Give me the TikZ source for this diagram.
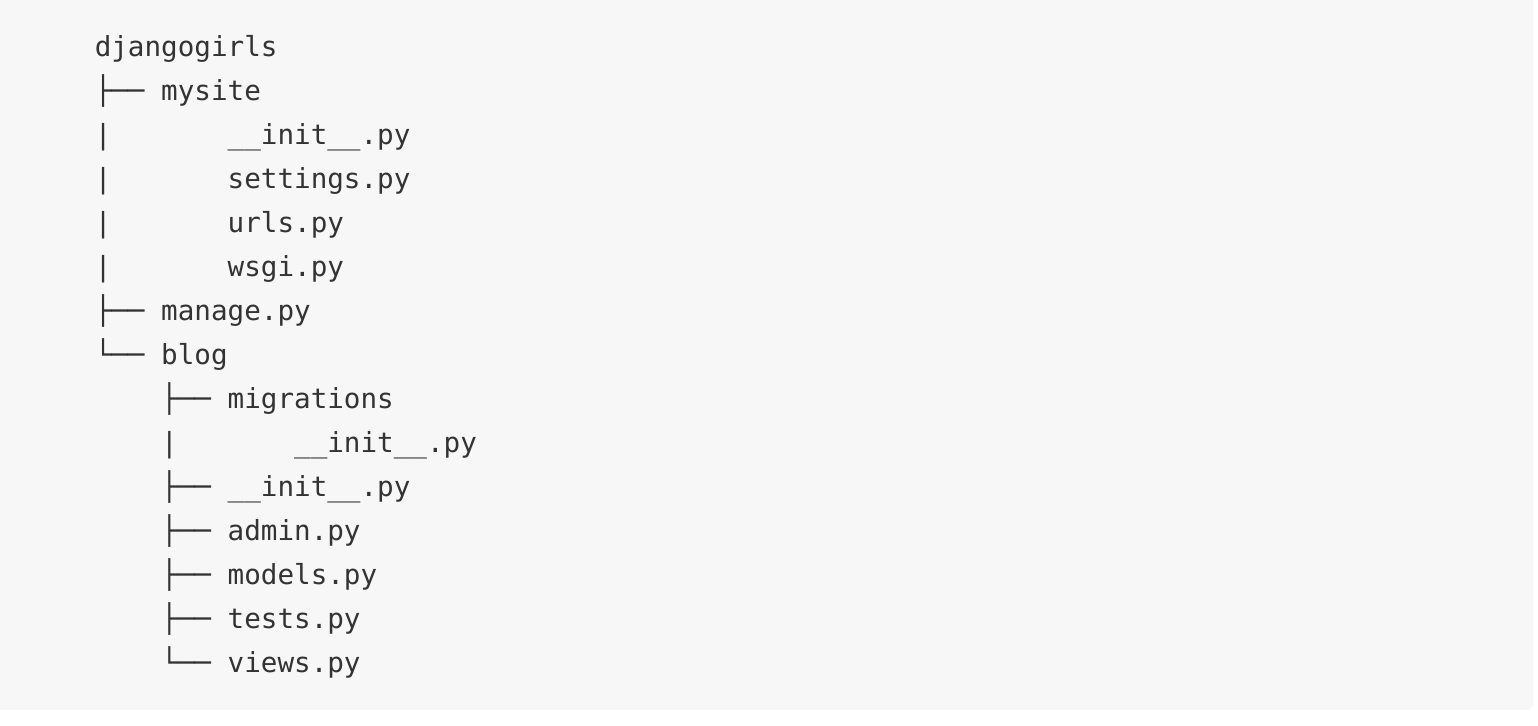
\documentclass[tikz,border=0pt]{standalone}
\usepackage{fontspec}
\setmonofont{DejaVu Sans Mono}
\definecolor{codebg}{HTML}{F7F7F7}
\definecolor{codetext}{HTML}{333333}

\tikzset{every picture/.style={line width=0.75pt}}
\tikzset{treeline/.style={anchor=base west,inner sep=0pt,text=codetext,font=\ttfamily\fontsize{13.8}{22}\selectfont}}

\begin{document}
\begin{tikzpicture}[x=0.5pt,y=0.5pt,yscale=-1,xscale=1]
%set diagram left start at 0, and has height of 726
\useasboundingbox (0,0) rectangle (1538,726);

%Shape: Rectangle [id:codeblock] 
\fill [codebg, rounded corners=3pt] (-10,-10) rectangle (1533,710);

% Text Node
\node (root) [treeline] at (94,57) {djangogirls};
% Text Node
\node (mysite) [treeline] at (94,101) {├──\ mysite};
% Text Node
\node (mysiteinit) [treeline] at (94,145) {|\ \ \ \ \ \ \ \_\_init\_\_.py};
% Text Node
\node (settings) [treeline] at (94,189) {|\ \ \ \ \ \ \ settings.py};
% Text Node
\node (urls) [treeline] at (94,233) {|\ \ \ \ \ \ \ urls.py};
% Text Node
\node (wsgi) [treeline] at (94,277) {|\ \ \ \ \ \ \ wsgi.py};
% Text Node
\node (manage) [treeline] at (94,321) {├──\ manage.py};
% Text Node
\node (blog) [treeline] at (94,365) {└──\ blog};
% Text Node
\node (migrations) [treeline] at (94,409) {\ \ \ \ ├──\ migrations};
% Text Node
\node (migrinit) [treeline] at (94,453) {\ \ \ \ |\ \ \ \ \ \ \ \_\_init\_\_.py};
% Text Node
\node (bloginit) [treeline] at (94,497) {\ \ \ \ ├──\ \_\_init\_\_.py};
% Text Node
\node (admin) [treeline] at (94,541) {\ \ \ \ ├──\ admin.py};
% Text Node
\node (models) [treeline] at (94,585) {\ \ \ \ ├──\ models.py};
% Text Node
\node (tests) [treeline] at (94,629) {\ \ \ \ ├──\ tests.py};
% Text Node
\node (views) [treeline] at (94,673) {\ \ \ \ └──\ views.py};

\end{tikzpicture}
\end{document}
